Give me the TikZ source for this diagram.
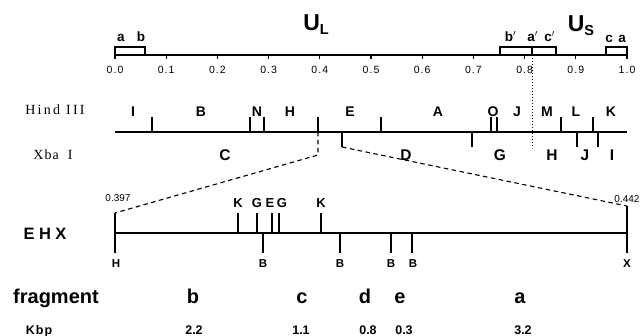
\documentclass[tikz,border=0pt]{standalone}
\usepackage{fontspec}
\setmainfont{Liberation Sans}
\newfontfamily\labserif{Liberation Serif}
\begin{document}
\begin{tikzpicture}[x=1pt,y=-1pt,line width=1.1pt,
  every node/.style={inner sep=0pt,anchor=base},
  scalenum/.style={font=\fontsize{10.5}{10.5}\selectfont\addfontfeatures{LetterSpace=10}},
  toplab/.style={font=\bfseries\fontsize{13.5}{13.5}\selectfont},
  bigU/.style={font=\bfseries\fontsize{23}{23}\selectfont},
  hindlab/.style={font=\bfseries\fontsize{14}{14}\selectfont},
  xbalab/.style={font=\bfseries\fontsize{15.5}{15.5}\selectfont},
  enzyme/.style={font=\labserif\fontsize{14}{14}\selectfont},
  ehxup/.style={font=\bfseries\fontsize{13}{13}\selectfont},
  ehxdown/.style={font=\bfseries\fontsize{11.5}{11.5}\selectfont},
  endnum/.style={font=\fontsize{10}{10}\selectfont},
  fraglab/.style={font=\bfseries\fontsize{20}{20}\selectfont},
  kbplab/.style={font=\bfseries\fontsize{12.5}{12.5}\selectfont},
  connector/.style={dashed,dash pattern=on 4.5pt off 3.5pt,line width=1.1pt}]
\useasboundingbox (0,0) rectangle (644,336);

% ---------- top scale ----------
\coordinate (s0) at (115,55);
\coordinate (s10) at (627,55);
\draw (s0) -- (s10);
\foreach \i/\t in {0/0.0,1/0.1,2/0.2,3/0.3,4/0.4,5/0.5,6/0.6,7/0.7,8/0.8,9/0.9,10/1.0}{
  \draw (115+51.2*\i,55) -- ++(0,4);
  \node[scalenum] (sl\i) at (115+51.2*\i,74) {\t};
}
% boxes
\draw (115,55) |- (145,47) -- (145,55);
\draw (500,55) |- (556,47) -- (556,55);
\draw (532,47) -- (532,55);
\draw (606,55) |- (627,47) -- (627,55);
\coordinate (dtop) at (532,55);
\coordinate (dbot) at (532,148);
\draw[dotted,line width=1pt] (dtop) -- (dbot);
\node[toplab] (la1) at (121,41.5) {a};
\node[toplab] (lb1) at (141,41.5) {b};
\node[toplab] (lb2) at (509,41.5) {b\rlap{$'$}};
\node[toplab] (la2) at (531,41.5) {a\rlap{$'$}};
\node[toplab] (lc2) at (548,41.5) {c\rlap{$'$}};
\node[toplab] (lc3) at (609,42.5) {c};
\node[toplab] (la3) at (622,42.5) {a};
\node[bigU] (UL) at (316,31) {U\raisebox{-3.5pt}{\fontsize{14.5}{14.5}\selectfont L}};
\node[bigU] (US) at (581,32) {U\raisebox{-3.5pt}{\fontsize{14.5}{14.5}\selectfont S}};

% ---------- Hind III / Xba I ----------
\node[enzyme] (hind) at (55,115) {\addfontfeatures{LetterSpace=16}Hind\hspace{6pt}III};
\node[enzyme] (xba) at (53,160) {\addfontfeatures{LetterSpace=8}Xba\hspace{9pt}I};
\draw (115,132) -- (627,132);
\foreach \x in {152,250,264,318,381,491,497,561,593}{
  \draw (\x,132) -- (\x,117);
}
\foreach \x in {342,472,577,598}{
  \draw (\x,132) -- (\x,147);
}
\foreach \x/\t/\n in {133/I/hI,201/B/hB,257/N/hN,290/H/hH,350/E/hE,438/A/hA,493/O/hO,517/J/hJ,547/M/hM,576/L/hL,611/K/hK}{
  \node[hindlab] (\n) at (\x,117) {\t};
}
\foreach \x/\t/\n in {225/C/xC,406/D/xD,500/G/xG,552/H/xH,585/J/xJ,612/I/xI}{
  \node[xbalab] (\n) at (\x,161) {\t};
}

% ---------- EHX ----------
\coordinate (hl) at (318,132);
\coordinate (hk) at (318,155);
\coordinate (el) at (115,213);
\coordinate (xr) at (342,147);
\coordinate (er) at (627,206);
\draw[connector] (hl) -- (hk) -- (el);
\draw[connector] (xr) -- (er);

\node[font=\bfseries\fontsize{16.5}{16.5}\selectfont] (ehx) at (45,240) {E\hspace{4.5pt}H\hspace{4.5pt}X};
\draw (115,233) -- (627,233);
\draw (el) -- (115,253);
\draw (er) -- (627,253);
\foreach \x in {238,257,272,279,321}{
  \draw (\x,233) -- (\x,213);
}
\foreach \x in {263,340,391,412}{
  \draw (\x,233) -- (\x,253);
}
\foreach \x/\t/\n in {238/K/eK1,257/G/eG1,270/E/eE,282/G/eG2,321/K/eK2}{
  \node[ehxup] (\n) at (\x,208) {\t};
}
\foreach \x/\t/\n in {116/H/bH,263/B/bB1,340/B/bB2,391/B/bB3,413/B/bB4,627/X/bX}{
  \node[ehxdown] (\n) at (\x,268) {\t};
}
\node[endnum] (n397) at (118,202) {0.397};
\node[endnum] (n442) at (627,203) {0.442};

% ---------- fragments ----------
\node[fraglab] (frag) at (56,303) {fragment};
\foreach \x/\t/\n in {193/b/fb,302/c/fc,365/d/fd,400/e/fe,520/a/fa}{
  \node[fraglab] (\n) at (\x,303) {\t};
}
\node[kbplab] (kbp) at (39,334) {K\hspace{1pt}b\hspace{1pt}p};
\foreach \x/\t/\n in {194/2.2/k1,301/1.1/k2,368/0.8/k3,404/0.3/k4,523/3.2/k5}{
  \node[kbplab] (\n) at (\x,334) {\t};
}
\end{tikzpicture}
\end{document}
